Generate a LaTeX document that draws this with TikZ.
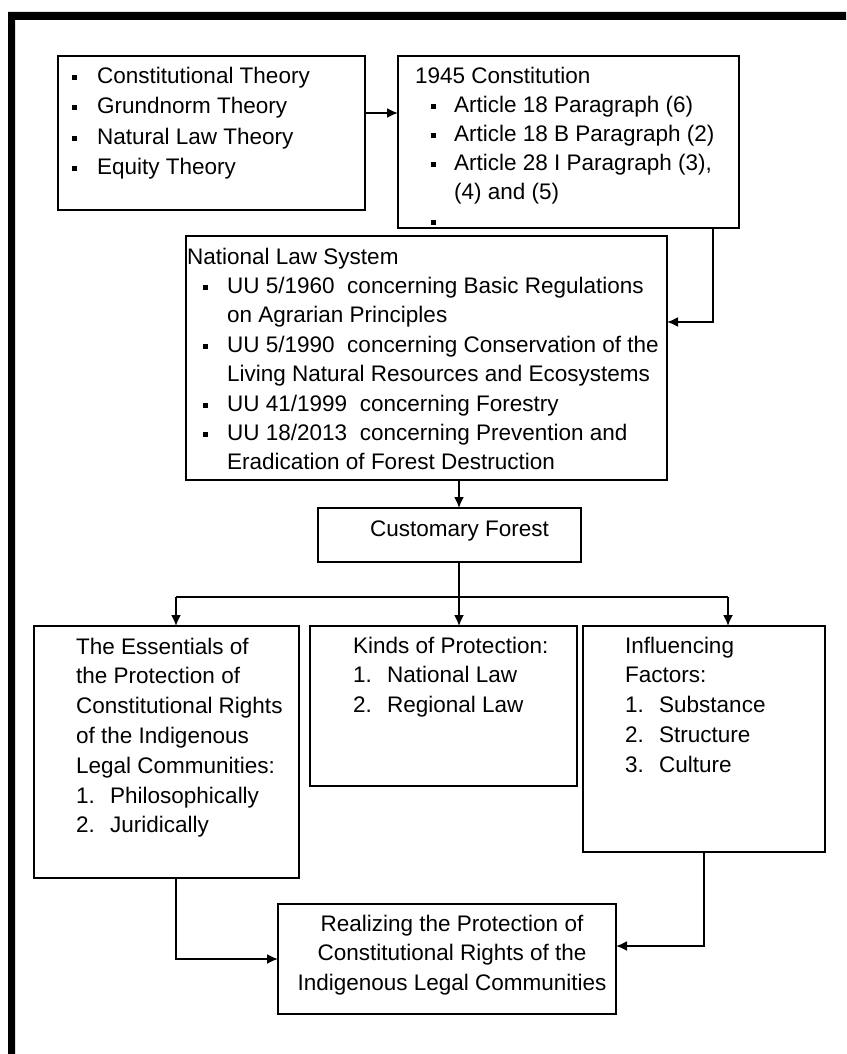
\documentclass[tikz,border=0pt]{standalone}
\usepackage{fontspec}
\setmainfont{Liberation Sans}
\usetikzlibrary{arrows.meta}
\newcommand\sqbul[1]{\makebox[#1][l]{\rule[3.5pt]{5pt}{5pt}}}
\newcommand\numit[2]{\makebox[#1][l]{#2}}
\begin{document}
\begin{tikzpicture}[x=1pt,y=-1pt,line join=miter,
    box/.style={draw,line width=2pt,inner sep=0pt,outer sep=0pt,anchor=north west},
    txt/.style={anchor=base west,align=left,inner sep=0pt,font=\fontsize{22.5}{29.8}\selectfont},
    arr/.style={line width=1.8pt,-{Latex[length=11pt,width=10pt]}}]
    \useasboundingbox(0,0)rectangle(846,1054);
    \fill(8,12)rectangle(846,20) (8,12)rectangle(15,1054);
    % boxes
    \node[box,minimum width=307pt,minimum height=154pt](theory)at(58,56){};
    \node[box,minimum width=341pt,minimum height=172pt](constitution)at(398,56){};
    \node[box,minimum width=481pt,minimum height=244pt](law)at(186,236){};
    \node[box,minimum width=263pt,minimum height=54pt](forest)at(318,508){};
    \node[box,minimum width=265pt,minimum height=252pt](essentials)at(34,626){};
    \node[box,minimum width=267pt,minimum height=160pt](kinds)at(310,626){};
    \node[box,minimum width=242pt,minimum height=226pt](factors)at(583,626){};
    \node[box,minimum width=338pt,minimum height=110pt](realizing)at(278,904){};
    % texts (anchored at the base of their last line)
    \node[txt,font=\fontsize{22.5}{30.5}\selectfont](theorytxt)at(72,174.5){\sqbul{25pt}Constitutional Theory\\\sqbul{25pt}Grundnorm Theory\\\sqbul{25pt}Natural Law Theory\\\sqbul{25pt}Equity Theory};
    \node[txt,font=\fontsize{22.5}{29}\selectfont](constitutiontxt)at(415,228){1945 Constitution\\\hspace*{16pt}\sqbul{23pt}Article 18 Paragraph (6)\\\hspace*{16pt}\sqbul{23pt}Article 18 B Paragraph (2)\\\hspace*{16pt}\sqbul{23pt}Article 28 I Paragraph (3),\\\hspace*{39pt}(4) and (5)\\\hspace*{16pt}\sqbul{23pt}};
    \node[txt,font=\fontsize{22.5}{29.4}\selectfont](lawtxt)at(187,469.8){National Law System\\\hspace*{16pt}\sqbul{24pt}UU 5/1960 \ concerning Basic Regulations\\\hspace*{40pt}on Agrarian Principles\\\hspace*{16pt}\sqbul{24pt}UU 5/1990 \ concerning Conservation of the\\\hspace*{40pt}Living Natural Resources and Ecosystems\\\hspace*{16pt}\sqbul{24pt}UU 41/1999 \ concerning Forestry\\\hspace*{16pt}\sqbul{24pt}UU 18/2013 \ concerning Prevention and\\\hspace*{40pt}Eradication of Forest Destruction};
    \node[txt](foresttxt)at(370,536){Customary Forest};
    \node[txt](essentialstxt)at(76,832.8){The Essentials of\\the Protection of\\Constitutional Rights\\of the Indigenous\\Legal Communities:\\\numit{34pt}{1.}Philosophically\\\numit{34pt}{2.}Juridically};
    \node[txt](kindstxt)at(353,712.6){Kinds of Protection:\\\numit{34pt}{1.}National Law\\\numit{34pt}{2.}Regional Law};
    \node[txt](factorstxt)at(625,772.2){Influencing\\Factors:\\\numit{34pt}{1.}Substance\\\numit{34pt}{2.}Structure\\\numit{34pt}{3.}Culture};
    \node[txt,anchor=base,align=center](realizingtxt)at(452,990.6){Realizing the Protection of\\Constitutional Rights of the\\Indigenous Legal Communities};
    % connectors
    \draw[arr](theory.east|-0,113)--(constitution.west|-0,113);
    \draw[arr](constitution.south-|713,0)|-(law.east|-0,322);
    \draw[arr](law.south-|459,0)--(forest.north-|459,0);
    \draw[line width=1.8pt](forest.south-|459,0)--(459,597)coordinate(split);
    \draw[line width=1.8pt](176,597)--(728,597);
    \foreach \b/\x in{essentials/176,kinds/459,factors/728}\draw[arr](\x,597)--(\b.north-|\x,0);
    \draw[arr](essentials.south-|176,0)|-(realizing.west);
    \draw[arr](factors.south-|704,0)|-(realizing.east|-0,946);
\end{tikzpicture}
\end{document}
